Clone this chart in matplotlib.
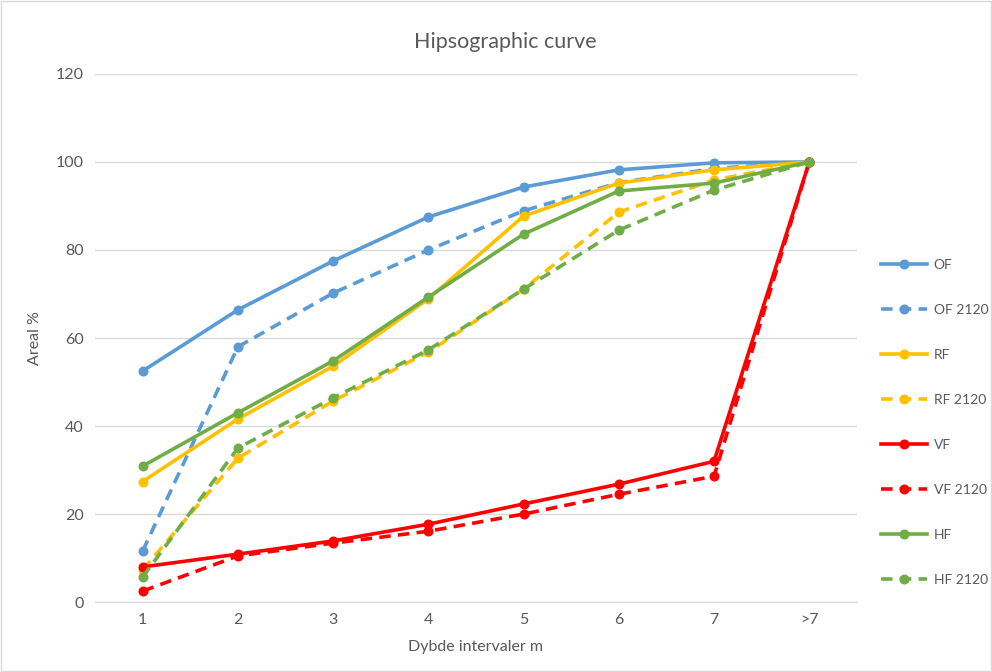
import matplotlib.pyplot as plt
from matplotlib.patches import Rectangle

categories = ["1", "2", "3", "4", "5", "6", "7", ">7"]

of_now = [52.5, 66.4, 77.5, 87.5, 94.3, 98.2, 99.8, 100]
of_2120 = [11.6, 58.0, 70.2, 80.0, 88.9, 95.3, 98.5, 100]
rf_now = [27.4, 41.6, 53.6, 68.9, 87.7, 95.2, 98.2, 100]
rf_2120 = [7.3, 32.7, 45.7, 56.8, 71.1, 88.6, 95.9, 100]
vf_now = [8.0, 10.9, 13.9, 17.7, 22.3, 26.8, 32.0, 100]
vf_2120 = [2.5, 10.5, 13.4, 16.1, 20.0, 24.5, 28.6, 100]
hf_now = [30.9, 43.0, 54.8, 69.3, 83.6, 93.4, 95.2, 100]
hf_2120 = [5.7, 35.0, 46.4, 57.3, 71.1, 84.5, 93.6, 100]

series = [
    ("OF", of_now, "#5B9BD5", "-"),
    ("OF 2120", of_2120, "#5B9BD5", "--"),
    ("RF", rf_now, "#FFC000", "-"),
    ("RF 2120", rf_2120, "#FFC000", "--"),
    ("VF", vf_now, "#FF0000", "-"),
    ("VF 2120", vf_2120, "#FF0000", "--"),
    ("HF", hf_now, "#70AD47", "-"),
    ("HF 2120", hf_2120, "#70AD47", "--"),
]

plt.rcParams["font.family"] = ["Lato", "DejaVu Sans"]
text_color = "#595959"

fig = plt.figure(figsize=(9.92, 6.72), dpi=100)
fig.patches.append(Rectangle((0.001, 0.001), 0.998, 0.998, transform=fig.transFigure,
                             fill=False, edgecolor="#D9D9D9", linewidth=1))
ax = fig.add_axes([0.0958, 0.104, 0.768, 0.786])

x = list(range(len(categories)))
for label, values, color, style in series:
    line, = ax.plot(x, values, color=color, linestyle=style, linewidth=2.6,
                    marker="o", markersize=6.2, label=label)
    if style == "--":
        line.set_dashes((3.2, 2.0))

ax.set_xlim(-0.5, len(categories) - 0.5)
ax.set_ylim(0, 120)
ax.set_yticks(range(0, 121, 20))
ax.set_xticks(x)
ax.set_xticklabels(categories)
ax.grid(axis="y", color="#D9D9D9", linewidth=1)
ax.set_axisbelow(True)
for side in ["top", "right", "left"]:
    ax.spines[side].set_visible(False)
ax.spines["bottom"].set_color("#D9D9D9")
ax.tick_params(axis="both", length=0, colors=text_color, labelsize=11.5, pad=8)

fig.text(0.509, 0.937, "Hipsographic curve", fontsize=15.5, color=text_color,
         ha="center", va="center")
ax.set_xlabel("Dybde intervaler m", fontsize=11.5, color=text_color, labelpad=9)
ax.set_ylabel("Areal %", fontsize=11.5, color=text_color, labelpad=10)

ax.legend(loc="center left", bbox_to_anchor=(1.015, 0.34), frameon=False,
          labelspacing=2.38, handlelength=3.3, handletextpad=0.5,
          fontsize=10, labelcolor=text_color)

fig.savefig("out.png", dpi=100)
